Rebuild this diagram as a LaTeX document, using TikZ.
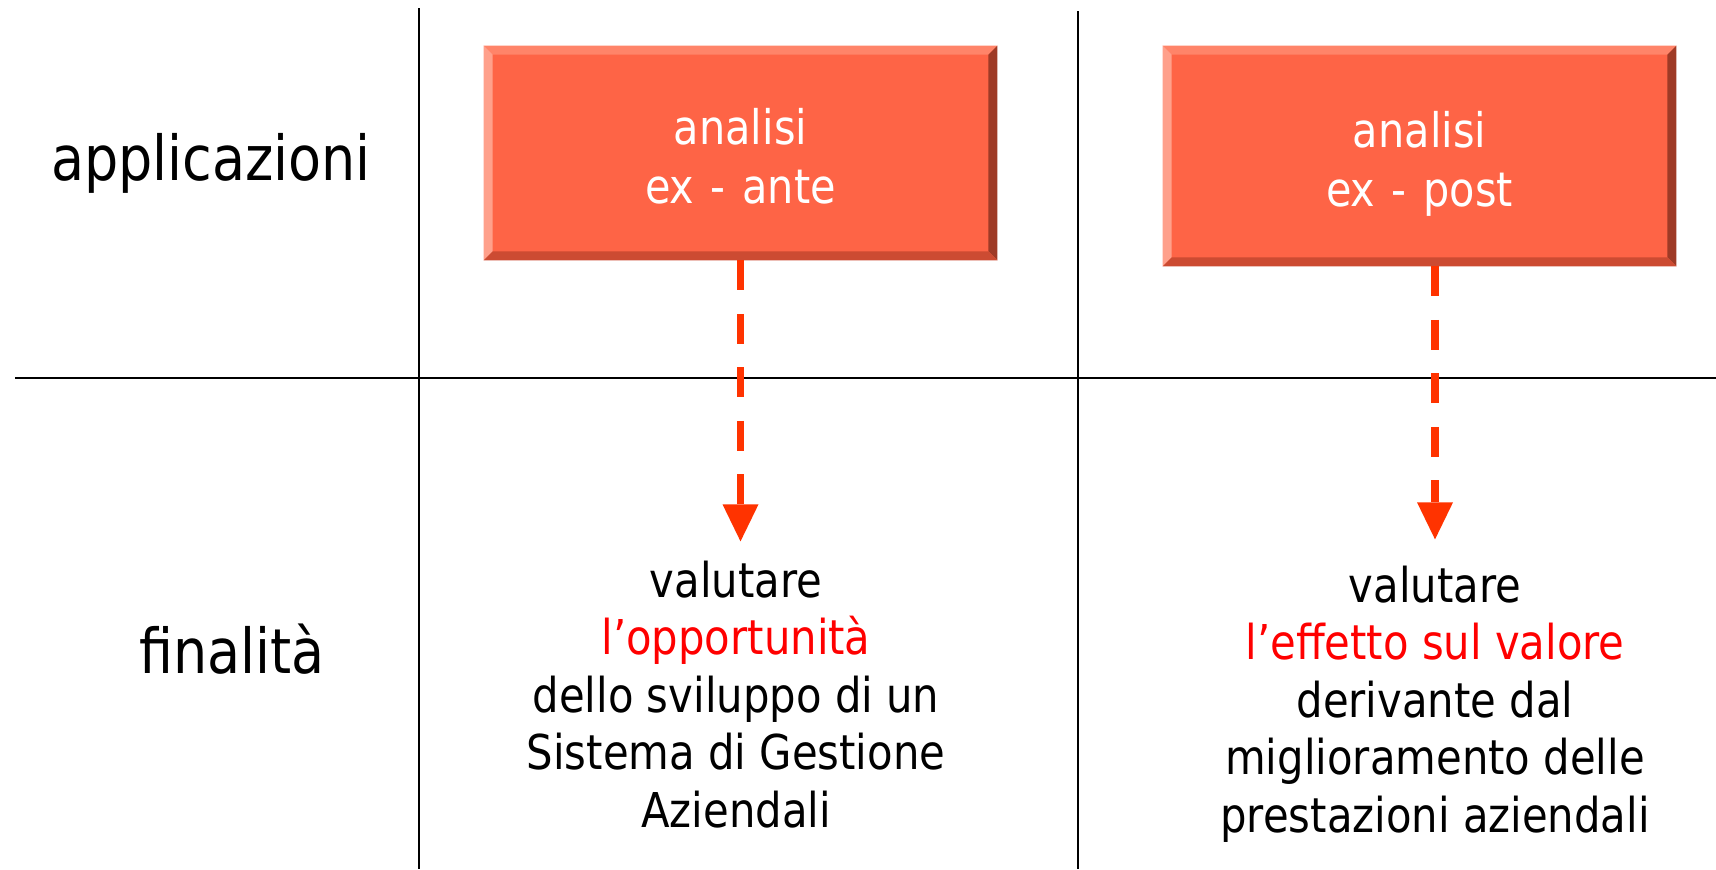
\documentclass[tikz,border=0pt]{standalone}
\usepackage{fontspec}
\setmainfont{DejaVu Sans}[FakeStretch=0.87]
\usetikzlibrary{arrows.meta,calc}
\definecolor{boxfill}{HTML}{FE6446}
\definecolor{bevtop}{HTML}{FF8469}
\definecolor{bevleft}{HTML}{FFA08B}
\definecolor{bevright}{HTML}{9E3A26}
\definecolor{bevbot}{HTML}{CC4B32}
\definecolor{arrred}{HTML}{FF3300}
\definecolor{hired}{HTML}{FF0000}
\tikzset{
  gridline/.style={line width=1pt, black},
  biglabel/.style={anchor=base, inner sep=0pt, font=\fontsize{31}{37}\selectfont},
  boxnode/.style={rectangle, fill=boxfill, inner sep=0pt, text=white,
    font=\fontsize{23.8}{29.5}\selectfont, text height=10pt, text depth=19pt},
  bodytext/.style={anchor=base, inner sep=0pt, font=\fontsize{24}{28.75}\selectfont},
  flow/.style={draw=arrred, line width=3.75pt, dash pattern=on 15pt off 11.75pt,
    -{Triangle[width=18pt,length=18.5pt,line width=0pt,fill=arrred]}},
}
\newcommand{\drawbevel}[1]{%
  \fill[bevtop] (#1.north west) -- (#1.north east) -- ($(#1.north east)+(-9,9)$) -- ($(#1.north west)+(9,9)$) -- cycle;
  \fill[bevleft] (#1.north west) -- ($(#1.north west)+(9,9)$) -- ($(#1.south west)+(9,-9)$) -- (#1.south west) -- cycle;
  \fill[bevright] (#1.north east) -- (#1.south east) -- ($(#1.south east)+(-9,-9)$) -- ($(#1.north east)+(-9,9)$) -- cycle;
  \fill[bevbot] (#1.south west) -- (#1.south east) -- ($(#1.south east)+(-9,-9)$) -- ($(#1.south west)+(9,-9)$) -- cycle;
}
\newcommand{\wsp}{\hspace{0.35em}}
\begin{document}
\begin{tikzpicture}[x=0.5pt,y=-0.5pt]
\useasboundingbox (0,0) rectangle (1716,869);
% grid
\coordinate (v1t) at (419,8);
\coordinate (v1b) at (419,869);
\coordinate (v2t) at (1078,11);
\coordinate (v2b) at (1078,869);
\coordinate (hl) at (15,378);
\coordinate (hr) at (1716,378);
\draw[gridline] (v1t) -- (v1b);
\draw[gridline] (v2t) -- (v2b);
\draw[gridline] (hl) -- (hr);
% row labels
\node[biglabel] (app) at (211,180) {applicazioni};
\node[biglabel] (fin) at (232,673) {finalità};
% boxes
\node[boxnode, minimum width=256.5pt, minimum height=107pt] (b1) at (740.5,153)
  {\begin{tabular}[t]{@{}c@{}}analisi\wsp\\ex\wsp-\wsp ante\end{tabular}};
\drawbevel{b1}
\node[boxnode, minimum width=256.5pt, minimum height=110pt] (b2) at (1419.5,156)
  {\begin{tabular}[t]{@{}c@{}}analisi\\ex\wsp-\wsp post\end{tabular}};
\drawbevel{b2}
% texts
\node[bodytext] (t1) at (736,597)
  {\begin{tabular}[t]{@{}c@{}}valutare\\\textcolor{hired}{l’opportunità}\\dello sviluppo di un\\Sistema di Gestione\\Aziendali\end{tabular}};
\node[bodytext] (t2) at (1435,602)
  {\begin{tabular}[t]{@{}c@{}}valutare\\\textcolor{hired}{l’effetto sul valore}\\derivante dal\\miglioramento delle\\prestazioni aziendali\end{tabular}};
% arrows
\draw[flow] (b1.south) -- ($(b1.south |- t1.north)+(0,-15)$);
\draw[flow] (b2.south -| t2.north) -- ($(t2.north)+(0,-22)$);
\end{tikzpicture}
\end{document}
